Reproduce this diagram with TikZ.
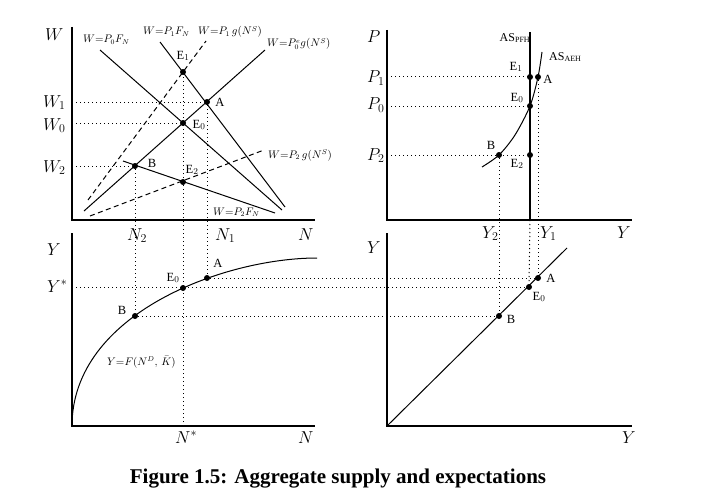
\documentclass[tikz,border=0pt]{standalone}
\usepackage{amsmath,amssymb}
\usepackage{fontspec}
\setmainfont{Liberation Serif}
\usepackage{tikz}

\begin{document}
\begin{tikzpicture}
	[
	x=1pt, y=-1pt,
	axisline/.style={line width=1.6pt},
	curve/.style={line width=1pt},
	guide/.style={line width=1pt, dash pattern=on 1.1pt off 2.9pt},
	dashline/.style={line width=1pt, dash pattern=on 5pt off 3.5pt},
	dot/.style={circle, fill, inner sep=0pt, minimum size=6pt},
	axlbl/.style={anchor=base west, inner sep=0pt, font=\fontsize{17}{17}\selectfont},
	ptlbl/.style={inner sep=0pt, font=\fontsize{12.5}{12.5}\selectfont},
	eqlbl/.style={anchor=base west, inner sep=0pt, font=\fontsize{10.5}{10.5}\selectfont},
	aslbl/.style={inner sep=0pt, font=\fontsize{12}{12}\selectfont},
	figcaption/.style={anchor=base, inner sep=0pt, font=\fontsize{21}{21}\selectfont\bfseries},
	]
		\useasboundingbox (0,0) rectangle (707,495);
		
		% axes
		\draw[axisline] (72,27) -- (72,220) -- (315,220);
		\draw[axisline] (72,233) -- (72,426) -- (315,426);
		\draw[axisline] (387,30) -- (387,220) -- (632,220);
		\draw[axisline] (387,233) -- (387,426) -- (632,426);
		
		% points on the axes
		\coordinate (w1) at 		( 72, 102);
		\coordinate (w0) at 		( 72, 123);
		\coordinate (w2) at 		( 72, 166);
		\coordinate (ys) at 		( 72, 287);
		\coordinate (ns) at 		(183, 426);
		\coordinate (p1) at 		(387,  77);
		\coordinate (p0) at 		(387, 106);
		\coordinate (p2) at 		(387, 155);
		\coordinate (yf) at 		(530, 220);
		
		% labour market
		\node[dot] (wE1) at 		(183,  72) {};
		\node[dot] (wA) at 		(207, 102) {};
		\node[dot] (wE0) at 		(183, 123) {};
		\node[dot] (wB) at 		(135, 166) {};
		\node[dot] (wE2) at 		(183, 182) {};
		
		% production function
		\node[dot] (yA) at 		(207, 278) {};
		\node[dot] (yE0) at 		(183, 288) {};
		\node[dot] (yB) at 		(135, 316) {};
		
		% aggregate supply
		\node[dot] (pE1) at 		(530,  77) {};
		\node[dot] (pA) at 		(538,  77) {};
		\node[dot] (pE0) at 		(530, 106) {};
		\node[dot] (pB) at 		(499, 155) {};
		\node[dot] (pE2) at 		(530, 155) {};
		
		% 45 degree line
		\node[dot] (dA) at 		(538, 278) {};
		\node[dot] (dE0) at 		(529, 287) {};
		\node[dot] (dB) at 		(499, 316) {};
		
		\foreach \from/\to in {w1/wA,w0/wE0,w2/wB,p1/pA,p0/pE0,p2/pE2,ys/dE0,yf/dE0,ns/wE1} \draw[guide] (\from) -- (\to);
		\foreach \from/\to in {wA/yA,wB/yB,yA/dA,yB/dB,pA/dA,pB/dB} \draw[guide] (\from) -- (\to);
		
		% curves
		\draw[curve] (100,50) -- (282,210);
		\draw[curve] (160,42) -- (285,207);
		\draw[curve] (84,211) -- (265,50);
		\draw[curve] (123,161) -- (275,213);
		\draw[dashline] (88,200) -- (206,41);
		\draw[dashline] (90,216) -- (264,150);
		\draw[curve] (72,426) .. controls (72,313) and (225,258) .. (317,258);
		\draw[line width=1.5pt] (530,32) -- (530,220);
		\draw[curve] plot[smooth] coordinates {(482,167) (499,155) (515,135) (530,106) (538,77) (542,52)};
		\draw[curve] (387,426) -- (567,248);
		
		% axis labels
		\node[axlbl] (lW) at 		( 45,  41) {$W$};
		\node[axlbl] (lW1) at 		( 43, 107) {$W_1$};
		\node[axlbl] (lW0) at 		( 43, 130) {$W_0$};
		\node[axlbl] (lW2) at 		( 43, 172) {$W_2$};
		\node[axlbl] (lN2) at 		(127, 240) {$N_2$};
		\node[axlbl] (lN1) at 		(215, 240) {$N_1$};
		\node[axlbl] (lN) at 		(298, 240) {$N$};
		\node[axlbl] (lY) at 		( 47, 255) {$Y$};
		\node[axlbl] (lYs) at 		( 47, 292) {$Y^*$};
		\node[axlbl] (lNs) at 		(175, 443) {$N^*$};
		\node[axlbl] (lNb) at 		(298, 443) {$N$};
		\node[axlbl] (lP) at 		(367,  43) {$P$};
		\node[axlbl] (lP1) at 		(367,  83) {$P_1$};
		\node[axlbl] (lP0) at 		(367, 110) {$P_0$};
		\node[axlbl] (lP2) at 		(367, 160) {$P_2$};
		\node[axlbl] (lY2) at 		(482, 238) {$Y_2$};
		\node[axlbl] (lY1) at 		(540, 238) {$Y_1$};
		\node[axlbl] (lYr) at 		(617, 238) {$Y$};
		\node[axlbl] (lYd) at 		(367, 253) {$Y$};
		\node[axlbl] (lYb) at 		(622, 443) {$Y$};
		
		% curve labels
		\node[eqlbl] (eP0F) at 		( 83,  43) {$W{=}P_0F_N$};
		\node[eqlbl] (eP1F) at 		(143,  35) {$W{=}P_1F_N$};
		\node[eqlbl] (eP1g) at 		(198,  35) {$W{=}P_1\,g(N^S)$};
		\node[eqlbl] (eP0g) at 		(267,  47) {$W{=}P^e_0g(N^S)$};
		\node[eqlbl] (eP2g) at 		(268, 158) {$W{=}P_2\,g(N^S)$};
		\node[eqlbl] (eP2F) at 		(213, 215) {$W{=}P_2F_N$};
		\node[eqlbl] (eF) at 		(107, 365) {$Y{=}F(N^D,\,\bar{K})$};
		\node[aslbl] (eAP) at 		(515,  38) {AS$_{\text{PFH}}$};
		\node[aslbl, anchor=west] (eAA) at 		(549,  57) {AS$_{\text{AEH}}$};
		
		% point labels
		\node[ptlbl] (tE1) at 		(183,  56) {E$_1$};
		\node[ptlbl] (tA) at 		(220, 102) {A};
		\node[ptlbl] (tE0) at 		(199, 125) {E$_0$};
		\node[ptlbl] (tB) at 		(152, 163) {B};
		\node[ptlbl] (tE2) at 		(192, 170) {E$_2$};
		\node[ptlbl] (uA) at 		(218, 263) {A};
		\node[ptlbl] (uE0) at 		(173, 278) {E$_0$};
		\node[ptlbl] (uB) at 		(122, 310) {B};
		\node[ptlbl] (qE1) at 		(516,  67) {E$_1$};
		\node[ptlbl] (qA) at 		(548,  79) {A};
		\node[ptlbl] (qE0) at 		(517,  98) {E$_0$};
		\node[ptlbl] (qB) at 		(491, 145) {B};
		\node[ptlbl] (qE2) at 		(517, 164) {E$_2$};
		\node[ptlbl] (rA) at 		(551, 278) {A};
		\node[ptlbl] (rE0) at 		(539, 297) {E$_0$};
		\node[ptlbl] (rB) at 		(511, 319) {B};
		
		% caption
		\node[figcaption] (cap1) at 		(338, 483) {Figure 1.5: Aggregate supply and expectations};
		
	\end{tikzpicture}
\end{document}
